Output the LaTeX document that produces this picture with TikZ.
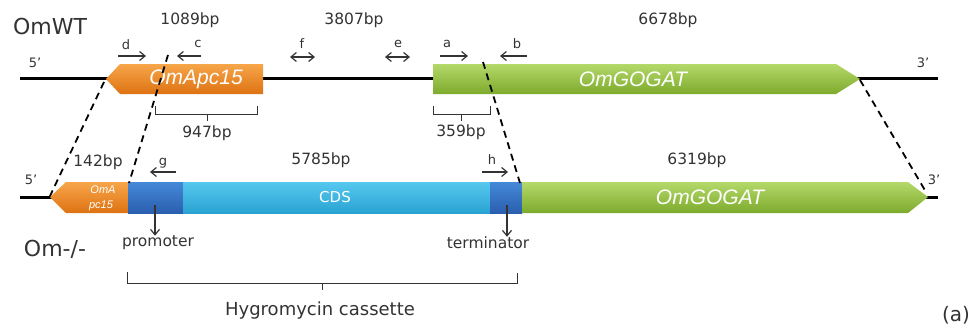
\documentclass[tikz,border=0pt]{standalone}
\usepackage{fontspec}
\setmainfont{DejaVu Sans}
\newfontfamily\genefont{Liberation Sans}
\usetikzlibrary{arrows.meta}
\definecolor{orgtop}{HTML}{F7A64A}
\definecolor{orgbot}{HTML}{DD7212}
\definecolor{grntop}{HTML}{B4D96A}
\definecolor{grnbot}{HTML}{7DAA2C}
\definecolor{cyntop}{HTML}{55C8EE}
\definecolor{cynbot}{HTML}{2AA3D3}
\definecolor{blutop}{HTML}{4489D8}
\definecolor{blubot}{HTML}{2A5FAE}
\definecolor{txt}{HTML}{333333}
\begin{document}
\begin{tikzpicture}[x=1pt,y=-1pt,
  lbl/.style={font=\fontsize{15.5}{17}\selectfont, text=txt, inner sep=0},
  big/.style={font=\fontsize{22}{24}\selectfont, text=txt, inner sep=0},
  small/.style={font=\fontsize{13}{14}\selectfont, text=txt, inner sep=0},
  primer/.style={-{Straight Barb[length=5.5pt,width=9pt]}, line width=1.2pt, draw=txt},
  dprimer/.style={{Straight Barb[length=5.5pt,width=9pt]}-{Straight Barb[length=5.5pt,width=9pt]}, line width=1.2pt, draw=txt},
  gene/.style={font=\genefont\itshape\fontsize{21}{23}\selectfont, text=white, inner sep=0},
  dashl/.style={dash pattern=on 7pt off 5pt, line width=1.8pt},
  brk/.style={line width=1pt, draw=txt},
  dna/.style={line width=3pt}]
\useasboundingbox (0,0) rectangle (974,332);
\fill[white] (0,0) rectangle (974,332);

% ---------- top row (OmWT) ----------
\coordinate (t5) at (20,78);
\coordinate (t3) at (938,78);
\draw[dna] (t5) -- (t3);
\shade[top color=orgtop, bottom color=orgbot] (106,79) -- (120,64) -- (263,64) -- (263,94) -- (120,94) -- cycle;
\shade[top color=grntop, bottom color=grnbot] (433,64) -- (836,64) -- (860,79) -- (836,94) -- (433,94) -- cycle;
\node[gene] (apcT) at (196,79) {OmApc15};
\node[gene] (gogT) at (633,79) {OmGOGAT};

\node[big] (wt) at (50,26) {OmWT};
\node[small] (p5t) at (35,63) {5'};
\node[small] (p3t) at (923,63) {3'};
\node[lbl] (n1089) at (190,20) {1089bp};
\node[lbl] (n3807) at (354,20) {3807bp};
\node[lbl] (n6678) at (668,20) {6678bp};

% primers top
\coordinate (d1) at (118,56); \coordinate (d2) at (146,56);
\draw[primer] (d1) -- (d2); \node[small] (dl) at (126,45) {d};
\coordinate (c1) at (201,56); \coordinate (c2) at (177,56);
\draw[primer] (c1) -- (c2); \node[small] (cl) at (198,44) {c};
\coordinate (f1) at (290,57); \coordinate (f2) at (315,57);
\draw[dprimer] (f1) -- (f2); \node[small] (fl) at (302,44) {f};
\coordinate (e1) at (385,57); \coordinate (e2) at (410,57);
\draw[dprimer] (e1) -- (e2); \node[small] (el) at (398,44) {e};
\coordinate (a1) at (440,56); \coordinate (a2) at (468,56);
\draw[primer] (a1) -- (a2); \node[small] (al) at (447,44) {a};
\coordinate (b1) at (527,56); \coordinate (b2) at (500,56);
\draw[primer] (b1) -- (b2); \node[small] (bl) at (517,44) {b};

% brackets top
\draw[brk] (155,106) -- (155,114) -- (257,114) -- (257,106);
\draw[brk] (207,114) -- (207,121);
\node[lbl] (n947) at (207,133) {947bp};
\draw[brk] (433,106) -- (433,114) -- (490,114) -- (490,106);
\draw[brk] (461,114) -- (461,121);
\node[lbl] (n359) at (461,132) {359bp};

% ---------- bottom row (Om-/-) ----------
\coordinate (b5) at (20,197);
\coordinate (b3) at (938,197);
\draw[dna] (b5) -- (b3);
\shade[top color=orgtop, bottom color=orgbot] (50,197) -- (66,182) -- (128,182) -- (128,213) -- (66,213) -- cycle;
\shade[top color=blutop, bottom color=blubot] (128,182) rectangle (183,213);
\shade[top color=cyntop, bottom color=cynbot] (183,182) rectangle (490,213);
\shade[top color=blutop, bottom color=blubot] (490,182) rectangle (522,213);
\shade[top color=grntop, bottom color=grnbot] (522,182) -- (908,182) -- (928,197) -- (908,213) -- (522,213) -- cycle;
\node[font=\genefont\itshape\fontsize{11}{12}\selectfont, text=white, inner sep=0] (apcB1) at (103,190) {OmA};
\node[font=\genefont\itshape\fontsize{11}{12}\selectfont, text=white, inner sep=0] (apcB2) at (101,206) {pc15};
\node[font=\fontsize{15}{17}\selectfont, text=white, inner sep=0] (cds) at (335,197) {CDS};
\node[gene] (gogB) at (710,197) {OmGOGAT};

\node[big] (ko) at (55,249) {Om-/-};
\node[small] (p5b) at (31,180) {5'};
\node[small] (p3b) at (934,180) {3'};
\node[lbl] (n142) at (98,162) {142bp};
\node[lbl] (n5785) at (321,160) {5785bp};
\node[lbl] (n6319) at (697,160) {6319bp};

% primers bottom
\coordinate (g1) at (176,172); \coordinate (g2) at (150,172);
\draw[primer] (g1) -- (g2); \node[small] (gl) at (163,163) {g};
\coordinate (h1) at (482,172); \coordinate (h2) at (508,172);
\draw[primer] (h1) -- (h2); \node[small] (hl) at (492,160) {h};

% promoter / terminator
\node[lbl] (prom) at (158,243) {promoter};
\node[lbl] (term) at (488,243) {terminator};
\coordinate (pr0) at (155,205);
\coordinate (te0) at (507,205);
\draw[primer] (pr0) -- (prom.north -| pr0);
\draw[primer] (te0) -- (term.north -| te0);

% hygromycin bracket
\draw[brk] (127,272) -- (127,283) -- (517,283) -- (517,273);
\draw[brk] (322,283) -- (322,290);
\node[font=\fontsize{18}{20}\selectfont, text=txt, inner sep=0] (hyg) at (320,311) {Hygromycin cassette};
\node[font=\fontsize{20}{22}\selectfont, text=txt, inner sep=0] (panel) at (956,315) {(a)};

% dashed correspondence lines
\coordinate (x1a) at (104,82); \coordinate (x1b) at (50,196);
\coordinate (x2a) at (168,55); \coordinate (x2b) at (129,183);
\coordinate (x3a) at (483,62); \coordinate (x3b) at (520,183);
\coordinate (x4a) at (860,80); \coordinate (x4b) at (926,192);
\draw[dashl] (x1a) -- (x1b);
\draw[dashl] (x2a) -- (x2b);
\draw[dashl] (x3a) -- (x3b);
\draw[dashl] (x4a) -- (x4b);
\end{tikzpicture}
\end{document}
